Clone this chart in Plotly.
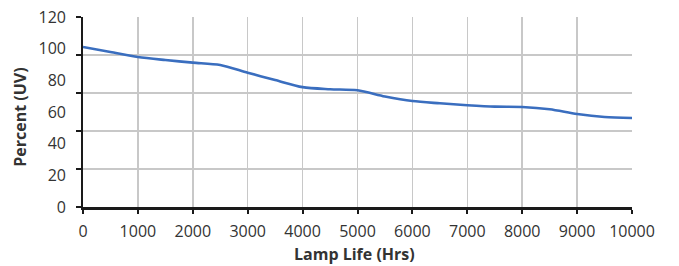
import plotly.graph_objects as go

hours = [0, 500, 1000, 1500, 2000, 2500, 3000, 3500, 4000, 4500, 5000, 5500, 6000,
         6500, 7000, 7500, 8000, 8500, 9000, 9500, 10000]
percent_uv = [101.1, 97.9, 94.7, 92.8, 91.2, 89.7, 84.8, 80.2, 75.7, 74.4, 73.7, 69.8, 66.9,
              65.5, 64.3, 63.4, 63.2, 61.7, 58.7, 56.8, 56.2]

x_ticks = list(range(0, 10001, 1000))
x_tick_labels = [str(v) for v in x_ticks]
grid_y = [0, 24, 48, 72, 96, 120]
y_labels = [0, 20, 40, 60, 80, 100, 120]
y_tick_labels = [str(v) for v in y_labels]

FONT = "Open Sans"
TXT = "#333333"

fig = go.Figure()
fig.add_trace(go.Scatter(x=hours, y=percent_uv, mode="lines",
                         line=dict(color="#3a6ebf", width=2.6, shape="spline", smoothing=0.8),
                         hoverinfo="skip", showlegend=False))
fig.add_trace(go.Scatter(x=[None], y=[None], yaxis="y2", showlegend=False, hoverinfo="skip"))

fig.update_layout(
    width=679, height=266,
    margin=dict(l=83, r=47, t=17, b=59),
    paper_bgcolor="white", plot_bgcolor="white",
    font=dict(family=FONT, color=TXT),
    xaxis=dict(range=[0, 10000], tickvals=x_ticks, ticktext=x_tick_labels, ticks="outside", ticklen=4,
               tickwidth=2, tickcolor="#1a1a1a", showgrid=True, gridcolor="#c8c8c8",
               gridwidth=1.5, showline=True, linecolor="#1a1a1a", linewidth=2.5,
               tickfont=dict(size=16, color=TXT), ticklabelstandoff=4, automargin=False,
               zeroline=False),
    yaxis=dict(range=[0, 120], tickvals=grid_y, showticklabels=False, ticks="outside",
               ticklen=5, tickwidth=2, tickcolor="#1a1a1a", showgrid=True, automargin=False,
               gridcolor="#c8c8c8", gridwidth=1.5, showline=True, linecolor="#1a1a1a",
               linewidth=2.5, zeroline=False),
    yaxis2=dict(range=[0, 120], overlaying="y", side="left", tickvals=y_labels,
                ticktext=y_tick_labels, automargin=False,
                ticks="", showgrid=False, showline=False, zeroline=False,
                tickfont=dict(size=16, color=TXT), ticklabelstandoff=16),
    annotations=[
        dict(text="<b>Lamp Life (Hrs)</b>", xref="paper", yref="paper", x=0.4954, y=-0.247,
             xanchor="center", yanchor="middle", showarrow=False, font=dict(size=16, color=TXT)),
        dict(text="<b>Percent (UV)</b>", xref="paper", yref="paper", x=-0.1148, y=0.475,
             xanchor="center", yanchor="middle", textangle=-90, showarrow=False,
             font=dict(size=16, color=TXT)),
    ],
)

fig.write_html("out.html", config={"displayModeBar": False, "staticPlot": True},
               post_script="document.body.style.margin='0';")
